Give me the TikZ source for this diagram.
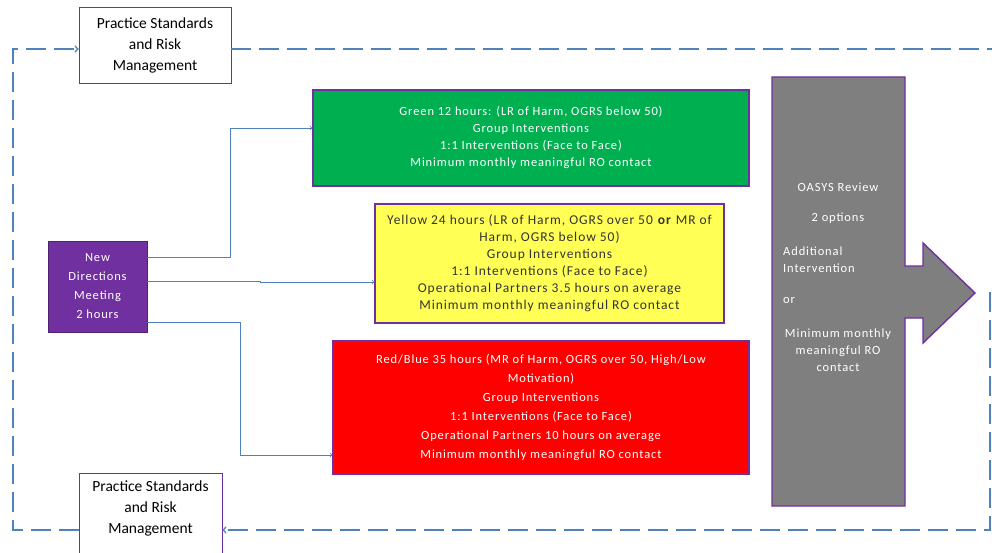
\documentclass[tikz,border=0pt]{standalone}
\usepackage{fontspec}
\setmainfont{Carlito}
\newfontfamily\bandfont{Carlito}[LetterSpace=7]
\usetikzlibrary{calc}

\definecolor{boxpurple}{RGB}{112,48,160}
\definecolor{linkblue}{RGB}{79,129,189}
\definecolor{bandgreen}{RGB}{0,176,80}
\definecolor{bandyellow}{RGB}{255,255,85}
\definecolor{bandred}{RGB}{255,0,0}
\definecolor{reviewgray}{RGB}{127,127,127}

\tikzset{
  band/.style={draw=boxpurple, line width=1.4pt, align=center, inner sep=0pt,
    font=\bandfont\fontsize{12.5}{17}\selectfont},
  psrm/.style={draw=boxpurple, line width=0.6pt, fill=white, align=center,
    font=\fontsize{15.5}{21}\selectfont, inner sep=0pt},
  link/.style={draw=linkblue, line width=0.7pt, ->},
  loopline/.style={draw=linkblue, line width=1.6pt, dash pattern=on 20pt off 8pt},
  reviewtext/.style={text=white, font=\bandfont\fontsize{12.5}{17}\selectfont, inner sep=0pt}
}

\begin{document}
\begin{tikzpicture}[x=1pt, y=-1pt]
\useasboundingbox (0,0) rectangle (992,553);

% coloured bands
\node[band, fill=bandgreen, text=white, minimum width=436pt, minimum height=96pt]
  (green) at (531,138) {Green 12 hours: (LR of Harm, OGRS below 50)\\
  Group Interventions\\ 1:1 Interventions (Face to Face)\\
  Minimum monthly meaningful RO contact};
\node[band, fill=bandyellow, text=black!80, minimum width=349pt, minimum height=119pt,
  font=\bandfont\fontsize{13.5}{17}\selectfont]
  (yellow) at (549.5,263.5) {Yellow 24 hours (LR of Harm, OGRS over 50 \textbf{or} MR of\\
  Harm, OGRS below 50)\\ Group Interventions\\ 1:1 Interventions (Face to Face)\\
  Operational Partners 3.5 hours on average\\ Minimum monthly meaningful RO contact};
\node[band, fill=bandred, text=white, minimum width=416pt, minimum height=133pt,
  font=\bandfont\fontsize{12.5}{19}\selectfont]
  (red) at (541,407.5) {Red/Blue 35 hours (MR of Harm, OGRS over 50, High/Low\\
  Motivation)\\ Group Interventions\\ 1:1 Interventions (Face to Face)\\
  Operational Partners 10 hours on average\\ Minimum monthly meaningful RO contact};

% meeting
\node[band, fill=boxpurple, text=white, draw=boxpurple!70!black, line width=0.8pt,
  minimum width=99pt, minimum height=91pt, font=\bandfont\fontsize{12.5}{19}\selectfont]
  (meeting) at (97.5,286.5) {New\\ Directions\\ Meeting\\ 2 hours};

% review arrow
\draw[fill=reviewgray, draw=boxpurple, line width=1.4pt]
  (772,77) -- (905,77) -- (905,266) -- (923,266) -- (923,243) -- (975,293)
  -- (923,343) -- (923,318) -- (905,318) -- (905,506) -- (772,506) -- cycle;
\node[reviewtext] (review) at (838,187) {OASYS Review};
\node[reviewtext] (options) at (838,218) {2 options};
\node[reviewtext, anchor=west, align=left] (additional) at (783,259.5) {Additional\\ Intervention};
\node[reviewtext, anchor=west] (or) at (783,301) {or};
\node[reviewtext, align=center] (minimum) at (838,350) {Minimum monthly\\ meaningful RO\\ contact};

% practice standards
\node[psrm, minimum width=152pt, minimum height=76pt] (psrmTop) at (155,45)
  {Practice Standards\\ and Risk\\ Management};
\node[psrm, minimum width=143pt, minimum height=90pt] (psrmBot) at (150.5,518)
  {Practice Standards\\ and Risk\\ Management\\ \mbox{}};

% links
\draw[link] ([yshift=29.5pt]meeting.east) -- ++(83,0) |- ([yshift=10pt]green.west);
\draw[link] ([yshift=5.5pt]meeting.east) -- ++(113,0) |- ([yshift=-18.5pt]yellow.west);
\draw[link] ([yshift=-35.5pt]meeting.east) -- ++(93,0) |- ([yshift=-47.5pt]red.west);

% loop
\coordinate (loopTL) at (13,49);
\coordinate (loopBL) at (13,530);
\coordinate (loopTR) at (995,49);
\coordinate (loopBR) at (990,530);
\coordinate (loopTip) at (990,292);
\draw[loopline, ->] (loopBL -| psrmBot.west) -- (loopBL) -- (loopTL) -- (loopTL -| psrmTop.west);
\draw[loopline] (loopTL -| psrmTop.east) -- (loopTR);
\draw[loopline, ->] (loopTip) -- (loopBR) -- (loopBR -| psrmBot.east);
\end{tikzpicture}
\end{document}
